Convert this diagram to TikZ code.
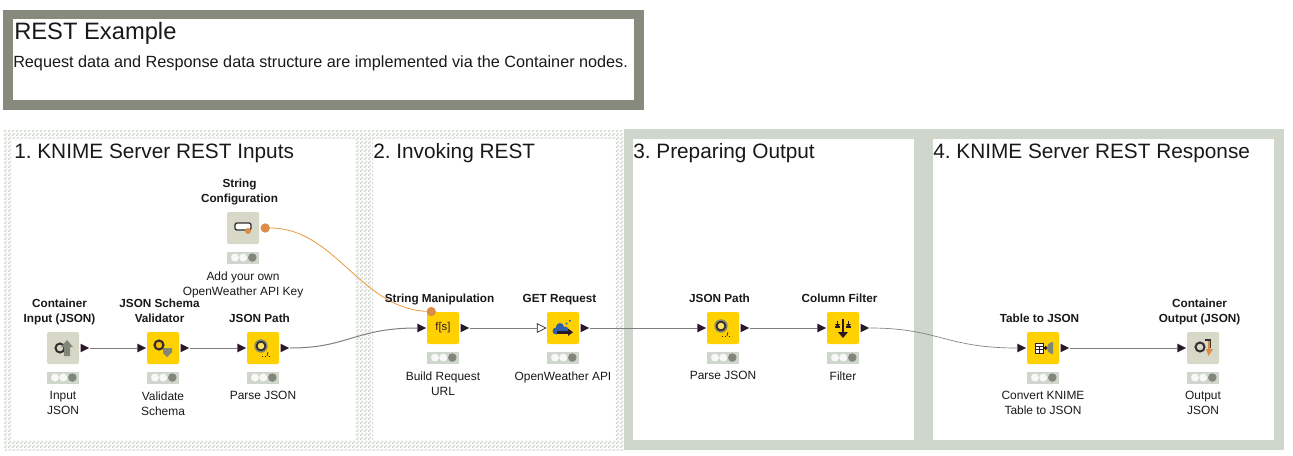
\documentclass[tikz,border=0pt]{standalone}
\usepackage{xcolor}
\usepackage{fontspec}
\usepackage{tikz}
\usetikzlibrary{positioning,shapes.geometric,patterns}
\setmainfont{Liberation Sans}
\frenchspacing
\definecolor{panelgreen}{RGB}{207,214,204}
\definecolor{framegray}{RGB}{135,139,126}
\definecolor{nodeyellow}{RGB}{255,209,0}
\definecolor{configgray}{RGB}{216,216,200}
\definecolor{portdark}{RGB}{42,24,42}
\definecolor{wiregray}{RGB}{128,128,128}
\definecolor{flowor}{RGB}{221,140,68}
\definecolor{flowline}{RGB}{232,156,64}
\definecolor{lightgray}{RGB}{128,134,120}
\definecolor{ringdark}{RGB}{50,46,50}
\definecolor{cloudblue}{RGB}{46,96,170}
\pgfdeclarepatternformonly{checker}{\pgfqpoint{0pt}{0pt}}{\pgfqpoint{3pt}{3pt}}{\pgfqpoint{3pt}{3pt}}{
\pgfpathrectangle{\pgfqpoint{0pt}{0pt}}{\pgfqpoint{1.5pt}{1.5pt}}
\pgfpathrectangle{\pgfqpoint{1.5pt}{1.5pt}}{\pgfqpoint{1.5pt}{1.5pt}}
\pgfusepath{fill}}
\begin{document}
\begin{tikzpicture}[x=.75pt,y=-.75pt,node distance=75pt,
  icon/.style={rectangle, inner sep=0pt, minimum size=24pt, rounded corners=1pt, fill=nodeyellow},
  configicon/.style={icon, fill=configgray},
  statusbar/.style={rectangle, inner sep=0pt, minimum width=24pt, minimum height=9pt, fill=panelgreen},
  outport/.style={isosceles triangle, isosceles triangle stretches, inner sep=0pt, minimum width=6.5pt, minimum height=6.5pt, fill=portdark},
  hollowport/.style={outport, fill=white, draw=portdark, line width=.5pt},
  flowport/.style={circle, inner sep=0pt, minimum size=7pt, fill=flowor},
  nodename/.style={inner sep=0pt, align=center, text depth=0pt, font=\fontsize{8.8pt}{11.25pt}\selectfont\bfseries, text=black!90, xshift=-2.6pt},
  nodenote/.style={inner sep=0pt, align=center, font=\fontsize{8.95pt}{11.25pt}\selectfont, text=black!90},
  heading/.style={inner sep=0pt, anchor=base west, font=\fontsize{15.6pt}{18pt}\selectfont, text=black!90},
  wire/.style={draw=wiregray, line width=.75pt},
  ring/.style={draw=ringdark, line width=1.5pt},
  glyph/.style={fill=lightgray}]
\useasboundingbox (0,0) rectangle (1293,455);

\fill[framegray] (3,10) rectangle (644,110);
\fill[white] (13,19) rectangle (634,100);
\node[inner sep=0pt, anchor=base west, font=\fontsize{17.8pt}{20pt}\selectfont, text=black!90] (title) at (14,39) {REST Example};
\node[inner sep=0pt, anchor=base west, font=\fontsize{12.16pt}{14pt}\selectfont, text=black!90] (subtitle) at (13,67) {Request data and Response data structure are implemented via the Container nodes.};

\fill[pattern=checker, pattern color=panelgreen] (4,130) rectangle (624,450);
\fill[white] (12,139) rectangle (355,440);
\fill[white] (373,139) rectangle (615,440);
\fill[panelgreen] (624,129) rectangle (1284,450);
\fill[white] (633,139) rectangle (914,440);
\fill[white] (933,139) rectangle (1274,440);

\node[heading] (inputsHead) at (14,158) {1. KNIME Server REST Inputs};
\node[heading] (invokeHead) at (373,158) {2. Invoking REST};
\node[heading] (prepareHead) at (633,158) {3. Preparing Output};
\node[heading] (responseHead) at (933,158) {4. KNIME Server REST Response};

\node[configicon] (input) at (63,348) {};
\node[icon, right of=input] (validator) {};
\node[icon, right of=validator] (path) {};
\node[configicon] (config) at (243,228) {};
\node[icon] (manip) at (443,328) {};
\node[icon, node distance=90pt, right of=manip] (request) {};
\node[icon] (pathB) at (723,328) {};
\node[icon, node distance=90pt, right of=pathB] (filter) {};
\node[icon] (tojson) at (1043,348) {};
\node[configicon, node distance=120pt, right of=tojson] (output) {};

\foreach \n in {input,validator,path,config,manip,request,pathB,filter,tojson,output}{
  \node[statusbar, below=5.25pt of \n] (\n Status) {};
  \fill[white!85!panelgreen] ([xshift=-6pt]\n Status.center) circle (3pt);
  \fill[white!85!panelgreen] ([xshift=.2pt]\n Status.center) circle (3pt);
  \fill[lightgray] ([xshift=7pt]\n Status.center) circle (3.2pt);
}

\node[outport, right=.75pt of input] (inputOut) {};
\node[outport, left=0pt of validator] (validatorIn) {};
\node[outport, right=.75pt of validator] (validatorOut) {};
\node[outport, left=0pt of path] (pathIn) {};
\node[outport, right=.75pt of path] (pathOut) {};
\node[flowport, right=.75pt of config] (configOut) {};
\node[flowport, above left=-2.5pt and -6pt of manip] (manipFlow) {};
\node[outport, left=0pt of manip] (manipIn) {};
\node[outport, right=.75pt of manip] (manipOut) {};
\node[hollowport, left=0pt of request] (requestIn) {};
\node[outport, right=.75pt of request] (requestOut) {};
\node[outport, left=0pt of pathB] (pathBIn) {};
\node[outport, right=.75pt of pathB] (pathBOut) {};
\node[outport, left=0pt of filter] (filterIn) {};
\node[outport, right=.75pt of filter] (filterOut) {};
\node[outport, left=0pt of tojson] (tojsonIn) {};
\node[outport, right=.75pt of tojson] (tojsonOut) {};
\node[outport, left=0pt of output] (outputIn) {};

\draw[wire] (inputOut) -- (validatorIn);
\draw[wire] (validatorOut) -- (pathIn);
\draw[wire] (pathOut) .. controls +(65,0) and +(-65,0) .. (manipIn);
\draw[wire] (manipOut) -- (requestIn);
\draw[wire] (requestOut) -- (pathBIn);
\draw[wire] (pathBOut) -- (filterIn);
\draw[wire, line width=.5pt] (filterOut) .. controls +(75,0) and +(-75,0) .. (tojsonIn);
\draw[wire] (tojsonOut) -- (outputIn);
\draw[draw=flowline, line width=.6pt] (configOut) .. controls (335,228) and (360,308) .. (manipFlow);

\node[nodename, above=6.5pt of input] (inputName) {Container\\Input (JSON)};
\node[nodename, above=6.5pt of validator] (validatorName) {JSON Schema\\Validator};
\node[nodename, above=6.5pt of path] (pathName) {JSON Path};
\node[nodename, above=6.5pt of config] (configName) {String\\Configuration};
\node[nodename, above=6.5pt of manip] (manipName) {String Manipulation};
\node[nodename, above=6.5pt of request] (requestName) {GET Request};
\node[nodename, above=6.5pt of pathB] (pathBName) {JSON Path};
\node[nodename, above=6.5pt of filter] (filterName) {Column Filter};
\node[nodename, above=6.5pt of tojson] (tojsonName) {Table to JSON};
\node[nodename, above=6.5pt of output] (outputName) {Container\\Output (JSON)};

\node[nodenote, below=5.5pt of inputStatus] (inputNote) {Input\\JSON};
\node[nodenote, below=5.5pt of validatorStatus] (validatorNote) {Validate\\Schema};
\node[nodenote, below=5.5pt of pathStatus] (pathNote) {Parse JSON};
\node[nodenote, below=5.5pt of configStatus] (configNote) {Add your own\\OpenWeather API Key};
\node[nodenote, below=5.5pt of manipStatus] (manipNote) {Build Request\\URL};
\node[nodenote, below=5.5pt of requestStatus] (requestNote) {OpenWeather API};
\node[nodenote, below=5.5pt of pathBStatus] (pathBNote) {Parse JSON};
\node[nodenote, below=5.5pt of filterStatus] (filterNote) {Filter};
\node[nodenote, below=5.5pt of tojsonStatus] (tojsonNote) {Convert KNIME\\Table to JSON};
\node[nodenote, below=5.5pt of outputStatus] (outputNote) {Output\\JSON};

\begin{scope}[shift={(input)}]
\draw[ring] (-3,0) circle (4.5);
\fill[glyph] (4,-8) -- (10,-1) -- (7,-1) -- (7,8) -- (1,8) -- (1,-1) -- (-2,-1) -- cycle;
\end{scope}
\begin{scope}[shift={(validator)}]
\draw[ringdark, line width=1.6pt, fill=nodeyellow!70!orange] (-4,-3) circle (4.5);
\fill[glyph] (0,0) -- (9,0) -- (9,4) -- (4,9) -- (0,5) -- cycle;
\end{scope}
\begin{scope}[shift={(path)}]
\draw[ring, fill=nodeyellow!60!white] (-2,-2) circle (4.5);
\draw[lightgray, line width=1pt] (-2,-2) circle (6);
\draw[portdark, line width=.5pt, dotted] (-1,8) -- (9,8);
\draw[portdark, line width=.5pt] (4,8) -- (5,4);
\end{scope}
\begin{scope}[shift={(config)}]
\draw[draw=ringdark, fill=white, line width=1pt, rounded corners=1.5pt] (-8,-5) rectangle (8,2);
\fill[flowor] (5,3) circle (3);
\end{scope}
\node[inner sep=0pt, font=\fontsize{8.5pt}{10pt}\selectfont, text=portdark] (manipIcon) at (manip) {f[s]};
\begin{scope}[shift={(request)}]
\fill[cloudblue] (-7,3) circle (3.5) (-3,-1) circle (4) (2,2) circle (3.5);
\fill[cloudblue] (-7,2) rectangle (2,6);
\draw[cloudblue, line width=1.2pt, dotted] (3,-4) -- (9,-9);
\fill[portdark] (-6,3) rectangle (5,5.5);
\fill[portdark] (5,0.5) -- (10,4.2) -- (5,8) -- cycle;
\end{scope}
\begin{scope}[shift={(pathB)}]
\draw[ring, fill=nodeyellow!60!white] (-2,-2) circle (4.5);
\draw[lightgray, line width=1pt] (-2,-2) circle (6);
\draw[portdark, line width=.5pt, dotted] (-1,8) -- (9,8);
\draw[portdark, line width=.5pt] (4,8) -- (5,4);
\end{scope}
\begin{scope}[shift={(filter)}]
\draw[portdark, line width=.9pt] (-8,-1) -- (-3,-1) (3,-1) -- (8,-1) (-5.5,-7) -- (-5.5,-2) (5.5,-7) -- (5.5,-2);
\fill[portdark] (-8,-4) -- (-3,-4) -- (-5.5,-1) -- cycle (3,-4) -- (8,-4) -- (5.5,-1) -- cycle;
\draw[portdark, line width=1.2pt] (0,-9) -- (0,5);
\fill[portdark] (-5,4) -- (5,4) -- (0,10) -- cycle;
\end{scope}
\begin{scope}[shift={(tojson)}]
\draw[portdark, line width=.6pt, fill=white] (-8,-5) rectangle (0,5);
\draw[portdark, line width=.6pt] (-8,-2) -- (0,-2) (-8,1.5) -- (0,1.5) (-4,-2) -- (-4,5);
\draw[portdark, line width=.8pt] (0,0) -- (3,0);
\fill[portdark] (2,-2.5) -- (5,0) -- (2,2.5) -- cycle;
\fill[glyph] (10,6) arc (90:270:6) -- cycle;
\end{scope}
\begin{scope}[shift={(output)}]
\draw[ring] (-3,-1) circle (4.5);
\draw[ringdark, line width=1pt] (2,-8) -- (7,-8) -- (7,0);
\fill[flowor] (3,1) -- (5,1) -- (5,-7) -- (7,-7) -- (7,1) -- (10,1) -- (5.5,8) -- cycle;
\end{scope}
\end{tikzpicture}
\end{document}
